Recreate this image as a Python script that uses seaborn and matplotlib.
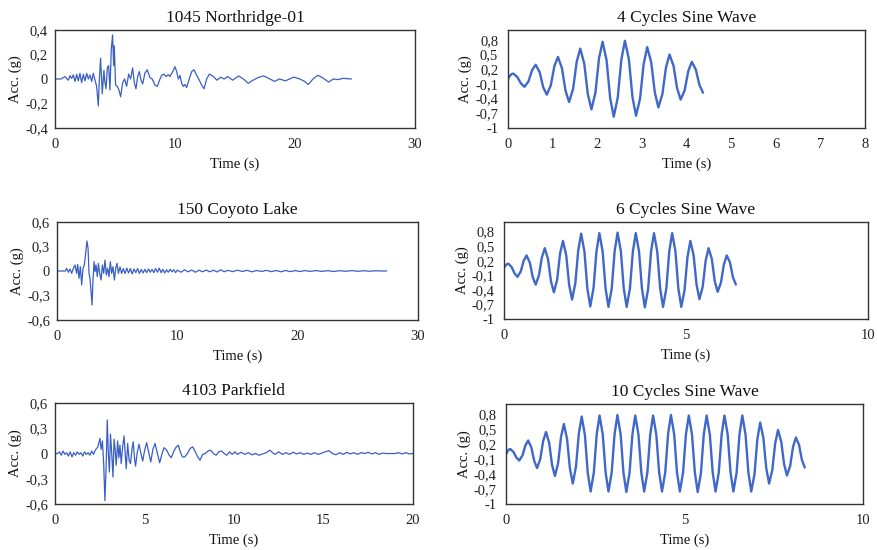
import matplotlib
matplotlib.use("Agg")
import matplotlib.pyplot as plt
import seaborn as sns

# ---------------- data ----------------
# 1045 Northridge-01
eq1_t = [0.0, 0.5, 0.83, 1.11, 1.25, 1.39, 1.53, 1.67, 1.81, 1.94, 2.08, 2.22, 2.36, 2.5, 2.64, 2.78,
         2.92, 3.06, 3.19, 3.33, 3.47, 3.61, 3.69, 3.8, 3.94, 4.08, 4.14, 4.25, 4.36, 4.47, 4.58, 4.69,
         4.8, 4.89, 4.94, 5.05, 5.19, 5.33, 5.47, 5.64, 5.8, 5.97, 6.14, 6.3, 6.47, 6.61, 6.75, 6.89,
         7.03, 7.17, 7.31, 7.5, 7.69, 7.92, 8.1, 8.33, 8.53, 8.75, 8.89, 9.08, 9.25, 9.44, 9.58, 9.81,
         10.0, 10.14, 10.28, 10.42, 10.56, 10.69, 10.83, 10.97, 11.19, 11.39, 11.58, 11.81, 12.03,
         12.22, 12.42, 12.64, 12.86, 13.2, 13.5, 13.8, 14.1, 14.4, 14.8, 15.3, 15.7, 16.1, 16.5, 17.0,
         17.4, 17.9, 18.3, 18.7, 19.2, 19.9, 20.4, 20.8, 21.1, 21.5, 21.9, 22.3, 22.8, 23.2, 23.6,
         24.0, 24.7]
eq1_v = [0.0, 0.0, 0.019, -0.01, 0.027, 0.005, 0.033, -0.02, 0.038, -0.016, 0.046, -0.03, 0.038,
         -0.016, 0.046, 0.0, 0.033, -0.02, 0.046, -0.008, -0.06, -0.22, -0.02, 0.17, -0.12, 0.07,
         -0.01, -0.08, 0.09, 0.11, -0.09, 0.24, 0.36, 0.11, 0.27, -0.05, -0.06, -0.09, -0.145, -0.03,
         0.0, -0.06, 0.04, 0.0, 0.09, -0.03, -0.08, 0.02, 0.06, -0.01, -0.04, 0.05, 0.075, 0.01, 0.0,
         -0.05, -0.06, 0.0, 0.03, 0.04, 0.02, 0.035, 0.02, 0.06, 0.10, 0.06, 0.0, 0.03, -0.035, -0.06,
         -0.045, -0.07, 0.0, 0.06, 0.075, 0.03, -0.01, -0.05, -0.08, 0.0, 0.04, 0.02, -0.01, 0.015,
         0.0, 0.02, -0.01, 0.025, 0.0, -0.035, -0.01, 0.015, 0.025, 0.0, -0.02, 0.0, -0.015, 0.015,
         0.0, -0.02, -0.045, 0.0, 0.03, 0.01, -0.025, 0.0, -0.005, 0.005, 0.0]

# 150 Coyoto Lake
eq2_t = [0.0, 0.7, 0.8, 0.94, 1.08, 1.22, 1.36, 1.5, 1.63, 1.72, 1.83, 1.94, 2.05, 2.16, 2.27, 2.38,
         2.49, 2.58, 2.66, 2.74, 2.83, 2.91, 2.99, 3.08, 3.16, 3.24, 3.35, 3.44, 3.55, 3.66, 3.77,
         3.88, 3.99, 4.1, 4.21, 4.32, 4.43, 4.54, 4.65, 4.77, 4.88, 4.99, 5.1, 5.24, 5.37, 5.51, 5.65,
         5.8, 5.95, 6.1, 6.25, 6.4, 6.55, 6.7, 6.85, 7.0, 7.15, 7.3, 7.45, 7.6, 7.75, 7.9, 8.05, 8.2,
         8.35, 8.5, 8.65, 8.8, 8.95, 9.1, 9.25, 9.4, 9.55, 9.7, 9.85, 10.0, 10.3, 10.6, 10.9, 11.2,
         11.5, 11.8, 12.1, 12.4, 12.7, 13.0, 13.3, 13.6, 13.9, 14.2, 14.6, 15.0, 15.4, 15.8, 16.2,
         16.6, 17.0, 17.4, 17.8, 18.2, 18.6, 19.0, 19.4, 19.8, 20.2, 20.6, 21.0, 21.5, 22.0, 22.5,
         23.0, 23.5, 24.0, 24.5, 25.0, 25.5, 26.0, 26.5, 27.0, 27.4]
eq2_v = [0.0, 0.0, 0.033, -0.016, 0.024, -0.029, 0.033, 0.073, -0.029, 0.08, -0.09, 0.053, -0.17,
         0.033, 0.073, 0.216, 0.367, 0.277, -0.029, -0.09, -0.253, -0.416, -0.11, 0.114, -0.008,
         0.073, -0.07, 0.093, -0.029, -0.11, 0.073, -0.029, 0.134, -0.05, 0.033, -0.07, 0.114,
         -0.029, 0.053, -0.11, 0.033, 0.093, -0.029, 0.05, -0.03, 0.03, -0.03, 0.035, -0.025, 0.03,
         -0.035, 0.025, -0.02, 0.03, -0.03, 0.02, -0.025, 0.02, -0.02, 0.025, -0.015, 0.02, -0.02,
         0.03, -0.015, 0.035, -0.02, 0.02, -0.025, 0.015, -0.015, 0.02, -0.01, 0.015, -0.02, 0.01,
         -0.015, 0.015, -0.01, 0.012, -0.015, 0.01, -0.01, 0.012, -0.01, 0.01, -0.012, 0.015, -0.01,
         0.008, -0.008, 0.01, -0.006, 0.008, -0.01, 0.006, -0.006, 0.008, -0.008, 0.006, -0.01,
         0.006, -0.008, 0.005, -0.006, 0.005, -0.005, 0.005, -0.005, 0.004, -0.006, 0.004, -0.004,
         0.005, -0.004, 0.003, -0.003, 0.003, 0.0, 0.0]

# 4103 Parkfield
eq3_t = [0.0, 0.15, 0.25, 0.35, 0.45, 0.55, 0.65, 0.75, 0.85, 0.95, 1.05, 1.15, 1.25, 1.35, 1.45,
         1.55, 1.65, 1.75, 1.85, 1.95, 2.05, 2.15, 2.25,
         2.4, 2.51, 2.58, 2.65, 2.72, 2.79, 2.85, 2.92, 2.98, 3.04, 3.1, 3.17, 3.24, 3.3, 3.36, 3.42,
         3.5, 3.57, 3.63, 3.7, 3.78, 3.86, 3.92, 3.98, 4.06, 4.14, 4.22, 4.3, 4.37, 4.44, 4.5, 4.6,
         4.7, 4.8, 4.9, 5.0, 5.12, 5.25, 5.35, 5.47, 5.59, 5.7, 5.85, 5.98, 6.1, 6.24, 6.38, 6.5,
         6.62, 6.75, 6.89, 7.0, 7.12, 7.25, 7.4, 7.55, 7.69, 7.82, 7.95, 8.1, 8.25, 8.4, 8.55, 8.7,
         8.85, 9.0, 9.15, 9.3, 9.45, 9.6, 9.75, 9.9, 10.05, 10.2, 10.4, 10.6, 10.8, 11.0, 11.2, 11.4,
         11.6, 11.8, 12.0, 12.15, 12.3, 12.5, 12.7, 12.9, 13.1, 13.3, 13.5, 13.7, 13.9, 14.1, 14.3,
         14.5, 14.7, 14.9, 15.1, 15.3, 15.5, 15.7, 15.9, 16.1, 16.3, 16.5, 16.7, 16.9, 17.1, 17.3,
         17.5, 17.7, 17.9, 18.1, 18.3, 18.5, 19.0, 19.2, 19.4, 19.6, 19.8, 20.0]
eq3_v = [0.0, 0.0, 0.02, -0.02, 0.03, -0.01, 0.01, -0.03, 0.02, -0.04, 0.01, -0.02, 0.02, -0.01,
         0.01, -0.03, 0.02, -0.01, 0.01, -0.02, 0.03, -0.01, 0.04,
         0.08, 0.18, 0.05, 0.15, -0.12, -0.56, -0.2, 0.40, 0.0, -0.22, 0.23, 0.0, -0.28, 0.17, 0.05,
         -0.14, 0.15, -0.05, 0.1, -0.12, 0.08, 0.21, 0.0, -0.18, 0.12, -0.08, -0.12, 0.05, 0.14,
         -0.05, -0.15, 0.02, 0.11, 0.0, -0.09, 0.03, 0.13, 0.0, -0.1, 0.05, 0.12, 0.02, -0.11, 0.0,
         0.07, 0.04, -0.02, -0.05, 0.02, 0.07, 0.10, 0.02, -0.04, -0.04, 0.0, 0.06, 0.08, 0.03,
         -0.03, -0.08, -0.01, 0.0, 0.03, 0.04, 0.0, -0.02, 0.02, 0.03, 0.0, -0.02, 0.02, -0.01,
         0.02, -0.01, 0.015, -0.01, 0.01, -0.015, 0.0, -0.02, -0.005, 0.01, 0.04, 0.01, -0.01, 0.02,
         -0.01, 0.01, -0.01, 0.015, -0.005, 0.01, -0.01, 0.005, -0.01, 0.01, -0.01, 0.005, 0.02,
         0.035, 0.0, -0.015, 0.01, -0.01, 0.015, -0.005, 0.01, -0.01, 0.01, 0.0, 0.015, -0.005,
         0.01, -0.01, 0.005, 0.0, 0.0, 0.01, -0.005, 0.01, -0.005, 0.0]

# shared time samples of the sine-wave records (s)
sine_t = [0.0, 0.04, 0.08,
          0.12, 0.21, 0.29, 0.37, 0.46, 0.54,
          0.62, 0.71, 0.79, 0.87, 0.96, 1.04,
          1.12, 1.21, 1.29, 1.37, 1.46, 1.54,
          1.62, 1.71, 1.79, 1.87, 1.96, 2.04,
          2.12, 2.21, 2.29, 2.37, 2.46, 2.54,
          2.62, 2.71, 2.79, 2.87, 2.96, 3.04,
          3.12, 3.21, 3.29, 3.37, 3.46, 3.54,
          3.62, 3.71, 3.79, 3.87, 3.96, 4.04,
          4.12, 4.21, 4.29, 4.37, 4.46, 4.54,
          4.62, 4.71, 4.79, 4.87, 4.96, 5.04,
          5.12, 5.21, 5.29, 5.37, 5.46, 5.54,
          5.62, 5.71, 5.79, 5.87, 5.96, 6.04,
          6.12, 6.21, 6.29, 6.37, 6.46, 6.54,
          6.62, 6.71, 6.79, 6.87, 6.96, 7.04,
          7.12, 7.21, 7.29, 7.37, 7.46, 7.54,
          7.62, 7.71, 7.79, 7.87, 7.96, 8.04,
          8.12, 8.21, 8.29, 8.37]

sine4_v = [0.00, 0.06, 0.10,
           0.11, 0.04, -0.09, -0.16, -0.05, 0.18,
           0.29, 0.14, -0.17, -0.32, -0.13, 0.26,
           0.45, 0.22, -0.24, -0.47, -0.20, 0.35,
           0.62, 0.31, -0.31, -0.62, -0.28, 0.42,
           0.76, 0.38, -0.39, -0.77, -0.38, 0.39,
           0.78, 0.40, -0.37, -0.75, -0.40, 0.30,
           0.65, 0.34, -0.27, -0.58, -0.31, 0.23,
           0.50, 0.27, -0.19, -0.42, -0.23, 0.16,
           0.35, 0.19, -0.12, -0.28]

sine6_v = [0.06, 0.10, 0.13,
           0.14, 0.07, -0.06, -0.13, -0.02, 0.20,
           0.31, 0.16, -0.14, -0.29, -0.10, 0.27,
           0.46, 0.23, -0.22, -0.45, -0.19, 0.35,
           0.61, 0.31, -0.30, -0.60, -0.26, 0.42,
           0.76, 0.39, -0.37, -0.74, -0.36, 0.39,
           0.77, 0.39, -0.37, -0.75, -0.37, 0.40,
           0.78, 0.40, -0.37, -0.75, -0.37, 0.39,
           0.77, 0.39, -0.37, -0.76, -0.38, 0.39,
           0.77, 0.39, -0.37, -0.75, -0.37, 0.39,
           0.77, 0.39, -0.37, -0.75, -0.41, 0.27,
           0.61, 0.31, -0.29, -0.59, -0.33, 0.20,
           0.46, 0.24, -0.22, -0.44, -0.25, 0.12,
           0.31, 0.16, -0.14, -0.29]

sine10_v = [0.00, 0.05, 0.09,
            0.10, 0.04, -0.07, -0.13, -0.03, 0.17,
            0.27, 0.13, -0.14, -0.28, -0.10, 0.26,
            0.44, 0.22, -0.22, -0.44, -0.18, 0.34,
            0.60, 0.30, -0.29, -0.59, -0.25, 0.41,
            0.75, 0.38, -0.38, -0.75, -0.37, 0.39,
            0.77, 0.39, -0.37, -0.75, -0.37, 0.39,
            0.78, 0.40, -0.37, -0.76, -0.38, 0.39,
            0.77, 0.39, -0.37, -0.75, -0.37, 0.39,
            0.77, 0.39, -0.37, -0.75, -0.37, 0.40,
            0.78, 0.40, -0.37, -0.75, -0.37, 0.39,
            0.77, 0.39, -0.37, -0.76, -0.38, 0.39,
            0.77, 0.39, -0.37, -0.75, -0.37, 0.39,
            0.77, 0.39, -0.37, -0.75, -0.37, 0.39,
            0.77, 0.39, -0.37, -0.75, -0.41, 0.29,
            0.63, 0.32, -0.28, -0.59, -0.32, 0.21,
            0.48, 0.25, -0.20, -0.43, -0.24, 0.14,
            0.33, 0.18, -0.12, -0.27]

titles = ["1045 Northridge-01", "4 Cycles Sine Wave", "150 Coyoto Lake",
          "6 Cycles Sine Wave", "4103 Parkfield", "10 Cycles Sine Wave"]

eq1_yticks = [-0.4, -0.2, 0.0, 0.2, 0.4]
eq1_ylabels = ["-0,4", "-0,2", "0", "0,2", "0,4"]
eq_yticks = [-0.6, -0.3, 0.0, 0.3, 0.6]
eq_ylabels = ["-0,6", "-0,3", "0", "0,3", "0,6"]
sine_yticks = [-1.0, -0.7, -0.4, -0.1, 0.2, 0.5, 0.8]
sine_ylabels = ["-1", "-0,7", "-0,4", "-0,1", "0,2", "0,5", "0,8"]
xticks_30 = [0, 10, 20, 30]
xticks_8 = [0, 1, 2, 3, 4, 5, 6, 7, 8]
xticks_10 = [0, 5, 10]
xticks_20 = [0, 5, 10, 15, 20]

# ---------------- styling / layout ----------------
sns.set_style("white")
plt.rcParams['font.family'] = ['Liberation Serif', 'DejaVu Serif']

EQ_COLOR = "#3a5fc4"
SINE_COLOR = "#3f68c8"

fig = plt.figure(figsize=(8.77, 5.5), dpi=100)

panels = [
    dict(rect=[0.0627, 0.7673, 0.4105, 0.1782], t=eq1_t, v=eq1_v, xlim=(0, 30), xt=xticks_30,
         ylim=(-0.4, 0.4), yt=eq1_yticks, yl=eq1_ylabels, lw=0.9, c=EQ_COLOR, ypad=5),
    dict(rect=[0.5792, 0.7673, 0.4071, 0.1782], t=sine_t[:len(sine4_v)], v=sine4_v, xlim=(0, 8),
         xt=xticks_8, ylim=(-1, 1), yt=sine_yticks, yl=sine_ylabels, lw=1.7, c=SINE_COLOR, ypad=7),
    dict(rect=[0.0650, 0.4182, 0.4116, 0.1782], t=eq2_t, v=eq2_v, xlim=(0, 30), xt=xticks_30,
         ylim=(-0.6, 0.6), yt=eq_yticks, yl=eq_ylabels, lw=0.9, c=EQ_COLOR, ypad=5),
    dict(rect=[0.5747, 0.4200, 0.4150, 0.1764], t=sine_t[:len(sine6_v)], v=sine6_v, xlim=(0, 10),
         xt=xticks_10, ylim=(-1, 1), yt=sine_yticks, yl=sine_ylabels, lw=1.7, c=SINE_COLOR, ypad=7),
    dict(rect=[0.0627, 0.0836, 0.4082, 0.1836], t=eq3_t, v=eq3_v, xlim=(0, 20), xt=xticks_20,
         ylim=(-0.6, 0.6), yt=eq_yticks, yl=eq_ylabels, lw=0.9, c=EQ_COLOR, ypad=5),
    dict(rect=[0.5770, 0.0836, 0.4070, 0.1818], t=sine_t[:len(sine10_v)], v=sine10_v, xlim=(0, 10),
         xt=xticks_10, ylim=(-1, 1), yt=sine_yticks, yl=sine_ylabels, lw=1.7, c=SINE_COLOR, ypad=7),
]

for title, p in zip(titles, panels):
    ax = fig.add_axes(p["rect"])
    sns.lineplot(x=p["t"], y=p["v"], ax=ax, color=p["c"], linewidth=p["lw"],
                 estimator=None, sort=False)
    ax.set_xlim(*p["xlim"])
    ax.set_ylim(*p["ylim"])
    ax.set_xticks(p["xt"])
    ax.set_xticklabels([str(x) for x in p["xt"]])
    ax.set_yticks(p["yt"])
    ax.set_yticklabels(p["yl"])
    ax.tick_params(axis="both", length=0, labelsize=10.5, colors="#222222")
    ax.tick_params(axis="x", pad=7)
    ax.tick_params(axis="y", pad=p["ypad"])
    for s in ax.spines.values():
        s.set_visible(True)
        s.set_color("#333333")
        s.set_linewidth(1.0)
    ax.set_title(title, fontsize=12.5, pad=6, color="#111111")
    ax.set_xlabel("Time (s)", fontsize=10.5, labelpad=5, color="#111111")
    ax.set_ylabel("Acc. (g)", fontsize=10.5, labelpad=2, color="#111111")
    ax.grid(False)

fig.savefig("out.png", dpi=100)
